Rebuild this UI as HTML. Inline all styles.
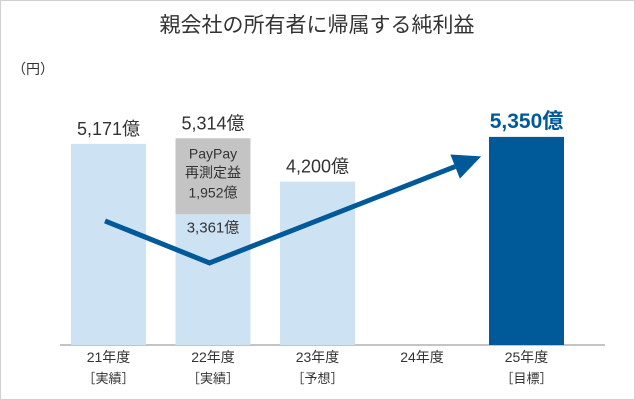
<!DOCTYPE html>
<html><head><meta charset="utf-8"><style>
html,body{margin:0;padding:0;background:#fff}
svg{display:block;font-family:"Liberation Sans","Noto Sans CJK JP",sans-serif}
</style></head><body>
<svg id="chart" width="635" height="400" viewBox="0 0 635 400">
<rect x="0.5" y="0.5" width="634" height="399" fill="#fff" stroke="#d0d0d0"/>
<text x="317" y="32" text-anchor="middle" font-size="21" fill="#333">親会社の所有者に帰属する純利益</text>
<text x="12" y="74" font-size="14" fill="#333">（円）</text>
<line x1="60" y1="345" x2="605" y2="345" stroke="#888" stroke-width="1"/>
<g id="bars"></g>
<g id="labels"></g>
<g id="trend"></g>
</svg>
<script>
const categories = ["21年度","22年度","23年度","24年度","25年度"];
const subLabels = ["［実績］","［実績］","［予想］","","［目標］"];
const baseValues = [5171, 3361, 4200, null, 5350];
const extraValues = [0, 1953, 0, null, 0];
const valueLabels = ["5,171億","5,314億","4,200億","","5,350億"];
const trendIndex = [0, 1, 3.6];
const trendValues = [3190, 2110, 4850];

const svg = document.getElementById('chart');
const NS = 'http://www.w3.org/2000/svg';
const baseY = 345, scale = 0.0389;
const x = i => 71 + i * 104.5;      // bar left
const cx = i => x(i) + 37.5;        // bar center
const y = v => baseY - v * scale;
function mk(tag, attrs, parent){const e=document.createElementNS(NS,tag);for(const k in attrs)e.setAttribute(k,attrs[k]);parent.appendChild(e);return e;}
const gb = document.getElementById('bars'), gl = document.getElementById('labels'), gt = document.getElementById('trend');

categories.forEach((c,i)=>{
  const b = baseValues[i];
  if (b != null) {
    const target = i === 4;
    const r = mk('rect',{x:x(i),y:y(b),width:75,height:baseY-y(b),fill: target?'#005a9a':'#cde2f3'},gb);
    
    
    if (extraValues[i] > 0) {
      const top = b + extraValues[i];
      const g = mk('rect',{x:x(i),y:y(top),width:75,height:y(b)-y(top),fill:'#c4c4c4'},gb);
      
      
      [["PayPay",y(top)+20],["再測定益",y(top)+39],["1,952億",y(top)+59]].forEach(([t,yy])=>{
        const tx = mk('text',{x:cx(i),y:yy,'text-anchor':'middle','font-size':14,fill:'#333'},gl);
        tx.textContent=t;
        
        
      });
      const bl = mk('text',{x:cx(i),y:y(b)+18,'text-anchor':'middle','font-size':15,fill:'#333'},gl);
      bl.textContent = "3,361億";
      
      
    }
    const vl = mk('text',{x:cx(i),y:y(b+extraValues[i])-9,'text-anchor':'middle','font-size':target?21:18,'font-weight':target?'bold':'normal',fill:target?'#005a9a':'#333'},gl);
    vl.textContent = valueLabels[i];
    
    
  }
  const cl = mk('text',{x:cx(i),y:362,'text-anchor':'middle','font-size':14,fill:'#333'},gl);
  cl.textContent = c;
  
  
  if (subLabels[i]) {
    const sl = mk('text',{x:cx(i),y:383,'text-anchor':'middle','font-size':13,fill:'#333'},gl);
    sl.textContent = subLabels[i];
    
    
  }
});

const pts = trendIndex.map((t,k)=>[71+34+t*104.5, y(trendValues[k])]);
const last = pts[pts.length-1], prev = pts[pts.length-2];
const ang = Math.atan2(last[1]-prev[1], last[0]-prev[0]);
const hl = 28, hw = 13;
const bx = last[0]-hl*Math.cos(ang), by = last[1]-hl*Math.sin(ang);
const lineStr = pts.slice(0,-1).map(p=>p.join(',')).join(' ')+' '+bx+','+by;
const pl = mk('polyline',{points:lineStr,fill:'none',stroke:'#005a9a','stroke-width':5,'stroke-linejoin':'miter'},gt);


const px = -Math.sin(ang), py = Math.cos(ang);
const head = mk('polygon',{points:`${last[0]},${last[1]} ${bx+px*hw},${by+py*hw} ${bx-px*hw},${by-py*hw}`,fill:'#005a9a'},gt);


</script>
</body></html>
